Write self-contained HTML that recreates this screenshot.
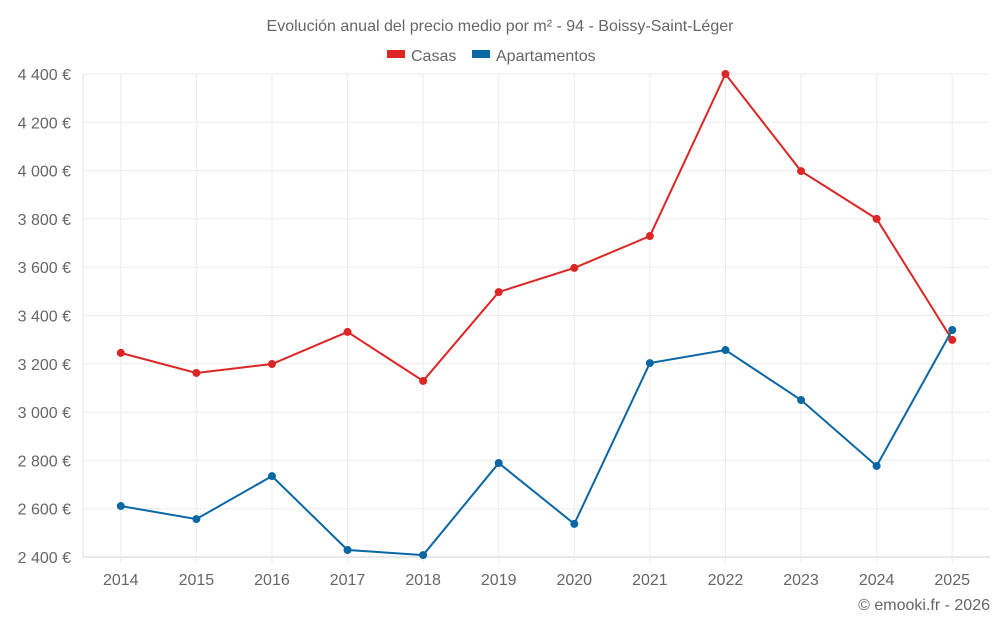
<!DOCTYPE html>
<html><head><meta charset="utf-8"><style>
body{margin:0;background:#fff;font-family:"Liberation Sans",sans-serif}
svg text{font-family:"Liberation Sans",sans-serif}
</style></head><body>
<svg id="chart" width="1000" height="625" xmlns="http://www.w3.org/2000/svg">
<text x="500" y="31" text-anchor="middle" font-size="16" fill="#666">Evolución anual del precio medio por m² - 94 - Boissy-Saint-Léger</text>
<g>
<g><rect x="387" y="50" width="18" height="8" fill="#dc2626"/><text x="411" y="61" font-size="16" fill="#666">Casas</text></g>
<g><rect x="472" y="50" width="18" height="8" fill="#0a67a3"/><text x="496" y="61" font-size="16" fill="#666">Apartamentos</text></g>
</g>
<g id="grid"></g><g id="axes"></g><g id="series"></g>
<text x="990" y="610" text-anchor="end" font-size="16" fill="#666">© emooki.fr - 2026</text>
</svg>
<script>
const years=["2014","2015","2016","2017","2018","2019","2020","2021","2022","2023","2024","2025"];
const casas=[3245,3162,3199,3332,3129,3497,3597,3729,4400,3998,3800,3299];
const apartamentos=[2611,2557,2735,2429,2408,2789,2537,3203,3257,3050,2777,3340];
const yTicks=[2400,2600,2800,3000,3200,3400,3600,3800,4000,4200,4400];
const NS="http://www.w3.org/2000/svg";
const L=83,R=990,T=74,B=557,yMin=2400,yMax=4400;
const step=(R-L)/years.length;
const xs=i=>L+step*(i+0.5);
const ys=v=>B-(v-yMin)/(yMax-yMin)*(B-T);
function mk(tag,attrs,parent){const e=document.createElementNS(NS,tag);for(const k in attrs)e.setAttribute(k,attrs[k]);parent.appendChild(e);return e;}
const grid=document.getElementById('grid'),axes=document.getElementById('axes'),ser=document.getElementById('series');
yTicks.forEach(v=>{
 const l=mk('line',{x1:L,x2:R,y1:ys(v),y2:ys(v),stroke:v===yMin?'#d0d0d0':'#ebebeb'},grid);
 
 
 const t=mk('text',{x:L-12,y:ys(v)+6,'text-anchor':'end','font-size':16,fill:'#666'},axes);
 t.textContent=String(v).replace(/\B(?=(\d{3})+(?!\d))/g,' ')+' €';
 
 
});
const ax=mk('line',{x1:L,x2:L,y1:T,y2:B,stroke:'#e3e3e3'},grid);


years.forEach((y,i)=>{
 const l=mk('line',{x1:xs(i),x2:xs(i),y1:T,y2:B+6,stroke:'#ebebeb'},grid);
 
 
 const t=mk('text',{x:xs(i),y:585,'text-anchor':'middle','font-size':16,fill:'#666'},axes);
 t.textContent=y;
 
 
});
function draw(vals,color,name){
 const p=mk('polyline',{points:vals.map((v,i)=>xs(i)+','+ys(v)).join(' '),fill:'none',stroke:color,'stroke-width':2},ser);
 
 
 vals.forEach((v,i)=>{
  const c=mk('circle',{cx:xs(i),cy:ys(v),r:4,fill:color},ser);
  
  
 });
}
draw(casas,'#dc2626','casas');
draw(apartamentos,'#0a67a3','apartamentos');
</script>
</body></html>
